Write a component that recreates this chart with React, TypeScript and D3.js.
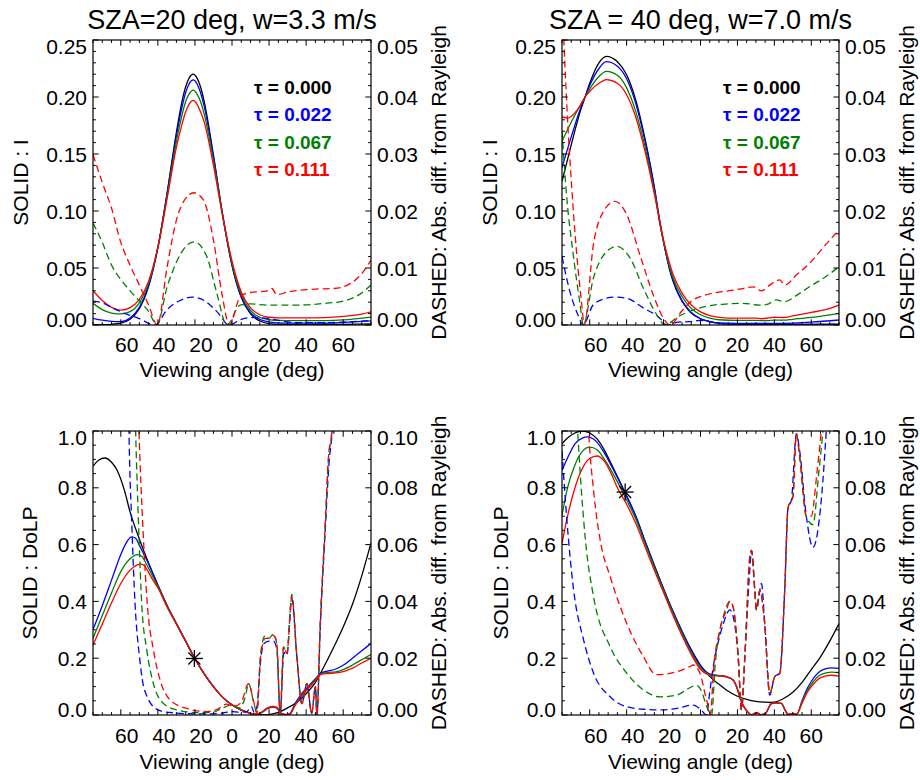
import * as d3 from 'd3'

type Pt = [number, number]

// ---- axes / labels ----
const xDomain: [number, number] = [-75, 75]
const xTicks = [-60, -40, -20, 0, 20, 40, 60]
const xMinorStep = 5
const xTitle = 'Viewing angle (deg)'

const titles = ['SZA=20 deg, w=3.3 m/s', 'SZA = 40 deg, w=7.0 m/s']
const legendLabels = ['τ = 0.000', 'τ = 0.022', 'τ = 0.067', 'τ = 0.111']
const seriesColors = ['#000000', '#0000ff', '#008000', '#ff0000']

const intensityTicks = [0, 0.05, 0.1, 0.15, 0.2, 0.25]
const intensityDiffTicks = [0, 0.01, 0.02, 0.03, 0.04, 0.05]
const dolpTicks = [0, 0.2, 0.4, 0.6, 0.8, 1.0]
const dolpDiffTicks = [0, 0.02, 0.04, 0.06, 0.08, 0.1]
const intensityLabel = 'SOLID : I'
const dolpLabel = 'SOLID : DoLP'
const diffLabel = 'DASHED: Abs. diff. from Rayleigh'

// ---- top left: I, SZA 20 ----
const tlBlack: Pt[] = [[-75,0.0003],[-70,0.0003],[-65,0.0006],[-60,0.0016],[-55,0.0051],[-50,0.0143],[-45,0.034],[-40,0.068],[-35,0.116],[-30,0.169],[-27,0.196],[-25,0.209],[-23,0.217],[-21,0.22],[-19,0.217],[-17,0.209],[-15,0.196],[-10,0.149],[-5,0.096],[0,0.052],[5,0.024],[10,0.0097],[15,0.0035],[20,0.0012],[25,0.0006],[35,0.0005],[50,0.0005],[60,0.0006],[75,0.001]]
const tlBlue: Pt[] = [[-75,0.0059],[-70,0.0042],[-65,0.0032],[-60,0.003],[-55,0.0062],[-50,0.0155],[-45,0.0345],[-40,0.068],[-35,0.115],[-30,0.166],[-27,0.191],[-25,0.204],[-23,0.212],[-21,0.215],[-19,0.212],[-17,0.204],[-15,0.192],[-10,0.147],[-5,0.096],[0,0.053],[5,0.025],[10,0.0108],[15,0.005],[20,0.0028],[25,0.0019],[35,0.0017],[50,0.0017],[60,0.0022],[75,0.0036]]
const tlGreen: Pt[] = [[-75,0.019],[-70,0.0135],[-65,0.0105],[-60,0.0097],[-55,0.0118],[-50,0.0195],[-45,0.0365],[-40,0.068],[-35,0.113],[-30,0.161],[-27,0.184],[-25,0.196],[-23,0.203],[-21,0.206],[-19,0.203],[-17,0.196],[-15,0.185],[-10,0.144],[-5,0.096],[0,0.054],[5,0.027],[10,0.0128],[15,0.0068],[20,0.0048],[25,0.004],[35,0.0038],[50,0.0039],[60,0.0045],[75,0.007]]
const tlRed: Pt[] = [[-75,0.03],[-70,0.0215],[-65,0.0155],[-60,0.013],[-55,0.0152],[-50,0.0225],[-45,0.0385],[-40,0.068],[-35,0.111],[-30,0.156],[-27,0.176],[-25,0.187],[-23,0.194],[-21,0.197],[-19,0.194],[-17,0.187],[-15,0.178],[-10,0.14],[-5,0.095],[0,0.056],[5,0.029],[10,0.015],[15,0.009],[20,0.0068],[25,0.0063],[30,0.0062],[40,0.0063],[50,0.0065],[60,0.0075],[70,0.0095],[75,0.0115]]
const tlDashBlue: Pt[] = [[-75,0.0042],[-70,0.0039],[-65,0.0031],[-59,0.0022],[-50,0.0011],[-41.5,0],[-35,0.0027],[-28,0.0043],[-21.5,0.0049],[-15,0.0043],[-8,0.0023],[-1.6,0],[5,0.001],[10,0.0013],[18,0.0012],[25,0.0008],[35,0.0004],[50,0.0004],[60,0.0005],[75,0.0008]]
const tlDashGreen: Pt[] = [[-75,0.0179],[-70,0.0145],[-65,0.0105],[-60,0.008],[-55,0.006],[-50,0.0042],[-45,0.0024],[-40.5,0],[-35,0.0067],[-30,0.011],[-27.5,0.0126],[-20.5,0.0146],[-13.6,0.012],[-8.2,0.0056],[-2.8,0],[4.4,0.0035],[10,0.0037],[19,0.0035],[30,0.0035],[37,0.0035],[50,0.0038],[60,0.0042],[68,0.0052],[75,0.007]]
const tlDashRed: Pt[] = [[-75,0.0299],[-70,0.025],[-65,0.0205],[-60,0.0145],[-55,0.0105],[-50,0.007],[-45,0.0035],[-40.3,0],[-35,0.0102],[-30,0.0184],[-25,0.0222],[-20.5,0.0232],[-15.5,0.022],[-10,0.0149],[-5.5,0.0056],[-1.4,0],[4.4,0.005],[8,0.0056],[13,0.0058],[19,0.006],[21.5,0.0064],[24.2,0.0053],[30,0.0058],[37,0.0061],[45,0.0063],[55,0.0064],[64,0.0073],[70,0.009],[75,0.0114]]

// ---- top right: I, SZA 40 ----
const trBlack: Pt[] = [[-75,0.126],[-70,0.158],[-65,0.188],[-62.5,0.2],[-60,0.212],[-55,0.23],[-51,0.2357],[-45,0.231],[-40,0.2196],[-35,0.197],[-30,0.163],[-27,0.139],[-25,0.121],[-22,0.089],[-20,0.073],[-16.5,0.047],[-15,0.039],[-11,0.0237],[-10,0.021],[-5,0.0105],[0,0.0055],[5,0.003],[10,0.0015],[15,0.0008],[25,0.0005],[50,0.0005],[75,0.0007]]
const trBlue: Pt[] = [[-75,0.138],[-70,0.165],[-65,0.19],[-62.5,0.2],[-60,0.21],[-55,0.225],[-51,0.231],[-45,0.227],[-40,0.216],[-35,0.194],[-30,0.161],[-25,0.12],[-20,0.073],[-15,0.04],[-10,0.0215],[-5,0.011],[0,0.0055],[5,0.003],[10,0.0018],[20,0.0014],[30,0.0014],[40,0.0014],[50,0.0017],[60,0.0025],[75,0.0044]]
const trGreen: Pt[] = [[-75,0.161],[-70,0.178],[-65,0.193],[-62.5,0.2],[-60,0.207],[-55,0.218],[-51,0.2225],[-45,0.219],[-40,0.208],[-35,0.187],[-30,0.156],[-25,0.117],[-20,0.073],[-15,0.042],[-10,0.025],[-5,0.0145],[0,0.009],[5,0.006],[10,0.0046],[20,0.004],[30,0.004],[36,0.0038],[40,0.0042],[45,0.0042],[50,0.005],[60,0.0066],[75,0.0102]]
const trRed: Pt[] = [[-75,0.1825],[-72,0.1815],[-70,0.183],[-65,0.193],[-62.5,0.2],[-60,0.205],[-55,0.212],[-51,0.2152],[-45,0.212],[-40,0.202],[-35,0.182],[-30,0.152],[-25,0.115],[-20,0.0745],[-15,0.045],[-10,0.028],[-5,0.0175],[0,0.0115],[5,0.0083],[10,0.0068],[15,0.006],[25,0.006],[30,0.006],[33,0.0055],[37,0.0062],[40,0.0068],[45,0.0066],[50,0.008],[60,0.011],[70,0.0145],[75,0.0176]]
const trDashBlue: Pt[] = [[-75,0.012],[-70.5,0.0056],[-66,0.0015],[-63.6,0],[-58,0.0036],[-50.8,0.0047],[-46.3,0.0049],[-40,0.0047],[-31,0.003],[-22,0.0012],[-18.5,0],[-12,0.0005],[-6,0.0006],[0,0.0008],[5,0.0006],[10,0.0003],[20,0.0001],[75,0.0001]]
const trDashGreen: Pt[] = [[-75,0.034],[-72.4,0.0223],[-68.9,0.0123],[-65.2,0.0036],[-63.5,0],[-58,0.0082],[-50.8,0.0129],[-45.4,0.0138],[-38.2,0.0118],[-31,0.0065],[-23.7,0.0018],[-19.2,0],[-12,0.0015],[-4,0.0026],[7,0.0035],[15,0.0037],[23,0.0038],[32,0.0035],[36,0.0036],[41,0.0044],[45.6,0.0041],[52,0.0052],[59,0.0067],[67,0.0083],[75,0.0102]]
const trDashRed: Pt[] = [[-75,0.058],[-74,0.05],[-72.4,0.0386],[-69.7,0.024],[-67,0.0123],[-64.3,0.0036],[-63,0],[-58,0.0141],[-52.6,0.0199],[-46.3,0.0217],[-40,0.0194],[-32.8,0.0123],[-25.6,0.0053],[-20.1,0.0012],[-16.5,0],[-10,0.0025],[-4,0.0044],[2,0.0052],[7,0.0056],[15,0.006],[23,0.0064],[28.5,0.0067],[33,0.006],[37.5,0.007],[42.9,0.0079],[45.6,0.007],[52,0.0088],[59,0.0108],[67,0.0138],[75,0.0167]]

// ---- bottom left: DoLP, SZA 20 ----
const blBlack: Pt[] = [[-75,0.876],[-72,0.897],[-68.5,0.905],[-65,0.89],[-62,0.862],[-58,0.79],[-55,0.715],[-50,0.62],[-45,0.535],[-40,0.458],[-35,0.385],[-30,0.322],[-25,0.26],[-20,0.198],[-15,0.145],[-10,0.1],[-5,0.062],[0,0.035],[5,0.017],[10,0.006],[15,0.001],[18,0],[22,0.004],[26,0.012],[30,0.025],[35,0.045],[40,0.075],[45,0.115],[50,0.175],[55,0.24],[60,0.31],[65,0.39],[70,0.49],[75,0.606]]
const blBlue: Pt[] = [[-75,0.301],[-70,0.385],[-65,0.475],[-60,0.565],[-57,0.607],[-54,0.627],[-52,0.622],[-50,0.598],[-47.8,0.569],[-45,0.532],[-40,0.456],[-35,0.385],[-30,0.322],[-25,0.26],[-20,0.198],[-15,0.145],[-10,0.1],[-5,0.062],[0,0.036],[5,0.018],[10,0.006],[13,0.002],[16,0.008],[19,0.022],[22,0.028],[24,0.025],[26.5,0.005],[29,0.002],[31,0.004],[34,0.04],[37,0.07],[41,0.1],[45,0.128],[48,0.148],[52,0.155],[56,0.162],[60,0.175],[65,0.2],[70,0.226],[75,0.252]]
const blGreen: Pt[] = [[-75,0.27],[-70,0.35],[-65,0.43],[-60,0.505],[-55,0.55],[-51,0.565],[-48.7,0.559],[-46,0.529],[-42.4,0.483],[-40,0.452],[-35,0.384],[-30,0.322],[-25,0.26],[-20,0.198],[-15,0.145],[-10,0.1],[-5,0.062],[0,0.036],[5,0.018],[10,0.006],[13,0.002],[16,0.01],[19,0.024],[22,0.03],[24,0.027],[26.5,0.006],[29,0.001],[31,0.002],[34,0.035],[37,0.065],[41,0.095],[45,0.125],[48,0.145],[52,0.15],[56,0.152],[60,0.16],[65,0.176],[70,0.195],[75,0.213]]
const blRed: Pt[] = [[-75,0.246],[-70,0.32],[-65,0.395],[-60,0.463],[-55,0.51],[-51,0.529],[-49,0.531],[-47,0.524],[-45,0.502],[-42.4,0.472],[-40,0.448],[-35,0.38],[-30,0.32],[-25,0.259],[-20,0.197],[-15,0.145],[-10,0.1],[-5,0.062],[0,0.036],[5,0.018],[10,0.006],[13,0.002],[16,0.01],[19,0.024],[22,0.03],[24,0.027],[26.5,0.006],[29,0.001],[31,0.002],[34,0.033],[37,0.062],[41,0.092],[45,0.122],[48,0.143],[52,0.146],[56,0.148],[60,0.153],[65,0.165],[70,0.183],[75,0.2]]
const blDashBlue: Pt[] = [[-75,0.57],[-65,0.41],[-60,0.3],[-57,0.17],[-55.6,0.1],[-54,0.066],[-52.3,0.039],[-50,0.021],[-48,0.011],[-46,0.0068],[-42.4,0.0029],[-37,0.0012],[-30,0.0007],[-20,0.0004],[-10,0.0004],[-4,0.0008],[0,0.0012],[4,0.001],[8,0.0012],[10.5,0.003],[12,0.0008],[13.5,0.003],[15,0.016],[17,0.025],[20,0.026],[22.4,0.026],[24.2,0.023],[26,0],[28,0.022],[29.6,0.021],[32.3,0.041],[35,0.0205],[37.7,0.004],[40.4,0.011],[43,0.0006],[45,0.01],[45.8,0],[47.6,0.03],[50.3,0.065],[52.5,0.09],[54,0.1],[56,0.16],[60,0.3],[75,0.4]]
const blDashGreen: Pt[] = [[-75,0.6],[-62,0.4],[-55,0.2],[-52,0.1],[-50.3,0.065],[-48.7,0.039],[-46,0.023],[-42.4,0.011],[-37,0.0041],[-29.8,0.0018],[-17.2,0.0008],[-10,0.001],[-5,0.0025],[0,0.0035],[4,0.0025],[7,0.006],[9,0.011],[11.5,0.005],[13.4,0.001],[15.5,0.022],[18,0.028],[20,0.027],[22.4,0.0285],[24.2,0.025],[26,0],[27.8,0.024],[29.6,0.0217],[32.3,0.0425],[35,0.0205],[37.7,0.004],[40.4,0.011],[43,0.0006],[45,0.01],[45.8,0],[47.6,0.032],[50.3,0.067],[52.1,0.091],[53.9,0.1],[56,0.17],[60,0.32],[75,0.45]]
const blDashRed: Pt[] = [[-75,0.63],[-62,0.42],[-54,0.2],[-50.2,0.1],[-48,0.065],[-45.7,0.039],[-42.4,0.0229],[-38.8,0.0123],[-33.4,0.0053],[-24.4,0.0023],[-13.6,0.0012],[-8,0.002],[-3,0.0038],[1,0.003],[5,0.0045],[8.9,0.011],[11.6,0.005],[13.4,0.0006],[15.5,0.021],[18,0.027],[20,0.027],[22.4,0.028],[24.2,0.025],[26,0],[27.8,0.024],[29.6,0.0217],[32.3,0.0416],[35,0.0205],[37.7,0.004],[40.4,0.011],[43,0.0006],[45,0.01],[45.8,0],[47.6,0.032],[50.3,0.067],[52.1,0.091],[53.9,0.1],[56,0.17],[60,0.34],[75,0.47]]
const blStar: Pt = [-20.3, 0.199]

// ---- bottom right: DoLP, SZA 40 ----
const brBlack: Pt[] = [[-75,0.955],[-72,0.975],[-68,0.993],[-64,1.0],[-60,0.993],[-56,0.972],[-52,0.932],[-48,0.88],[-45,0.84],[-40,0.772],[-35,0.7],[-30,0.612],[-25,0.527],[-20,0.445],[-15,0.367],[-10,0.295],[-5,0.23],[0,0.175],[5,0.136],[10,0.108],[14,0.088],[20,0.066],[25,0.055],[30,0.048],[35,0.045],[37.5,0.0445],[40,0.045],[45,0.058],[50,0.08],[55,0.115],[60,0.16],[65,0.205],[70,0.26],[75,0.322]]
const brBlue: Pt[] = [[-75,0.862],[-72,0.905],[-68,0.955],[-64,0.975],[-61.5,0.979],[-58,0.972],[-56,0.96],[-52,0.922],[-48,0.874],[-45,0.836],[-40,0.769],[-35,0.698],[-30,0.61],[-25,0.525],[-20,0.443],[-15,0.365],[-10,0.293],[-5,0.227],[0,0.173],[4,0.148],[7,0.141],[11,0.138],[14,0.135],[17.7,0.123],[19.5,0.1],[21.3,0.064],[23,0.035],[25,0.015],[27.6,0.001],[30.3,0.008],[33,0.001],[35,0.004],[38.4,0.04],[41,0.043],[43.8,0.041],[46,0.015],[47.4,0.002],[50,0.006],[52,0.002],[55,0.05],[57.4,0.088],[60,0.118],[64.6,0.153],[68,0.163],[71,0.166],[75,0.164]]
const brGreen: Pt[] = [[-75,0.703],[-72,0.8],[-68,0.88],[-64,0.928],[-60,0.943],[-56,0.934],[-52,0.9],[-48,0.857],[-45,0.821],[-40,0.757],[-35,0.689],[-30,0.603],[-25,0.52],[-20,0.438],[-15,0.36],[-10,0.287],[-5,0.22],[0,0.166],[4,0.145],[7,0.141],[11,0.138],[14,0.135],[17.7,0.123],[19.5,0.1],[21.3,0.064],[23,0.035],[25,0.015],[27.6,0.001],[30.3,0.008],[33,0.001],[35,0.004],[38.4,0.04],[41,0.043],[43.8,0.041],[46,0.015],[47.4,0.002],[50,0.006],[52,0.002],[55,0.045],[57.4,0.08],[60,0.108],[64.6,0.14],[68,0.148],[71,0.151],[75,0.149]]
const brRed: Pt[] = [[-75,0.604],[-72,0.7],[-68,0.8],[-64,0.868],[-60,0.903],[-56,0.912],[-52,0.893],[-48,0.845],[-45,0.8],[-40,0.742],[-35,0.674],[-30,0.592],[-25,0.51],[-20,0.431],[-15,0.352],[-10,0.279],[-5,0.213],[0,0.161],[4,0.142],[7,0.139],[11,0.137],[14,0.134],[17.7,0.122],[19.5,0.1],[21.3,0.064],[23,0.035],[25,0.015],[27.6,0.001],[30.3,0.008],[33,0.001],[35,0.004],[38.4,0.04],[41,0.043],[43.8,0.041],[46,0.015],[47.4,0.002],[50,0.006],[52,0.002],[55,0.042],[57.4,0.075],[60,0.1],[64.6,0.13],[68,0.138],[71,0.14],[75,0.137]]
const brDashBlue: Pt[] = [[-75,0.093],[-72.5,0.0698],[-68.7,0.044],[-63.3,0.0264],[-57.9,0.0147],[-48.9,0.0064],[-39.9,0.0029],[-30,0.002],[-21.9,0.0018],[-12.9,0.0023],[-3.9,0.0035],[0,0.002],[3.3,0],[5,0.008],[6.9,0.017],[10.5,0.028],[12.3,0.032],[15.9,0.037],[17.7,0.0346],[20.4,0.0205],[22.2,0.0018],[24,0.0205],[26.7,0.051],[27.6,0.058],[29.4,0.044],[30.3,0.037],[33,0.0463],[34.8,0.032],[37.5,0.007],[40.2,0.0135],[42.9,0.0147],[45.6,0.044],[47.4,0.073],[49.2,0.0756],[51.9,0.099],[53.7,0.093],[57.3,0.07],[60.9,0.059],[64.5,0.0698],[68.1,0.1],[72,0.15],[75,0.2]]
const brDashGreen: Pt[] = [[-75,0.25],[-70,0.15],[-66.5,0.1],[-62.3,0.0615],[-57.9,0.0416],[-48.9,0.024],[-39.9,0.0147],[-30.9,0.0088],[-21.9,0.0064],[-12.9,0.007],[-6,0.0095],[-2,0.0105],[-0.3,0.0094],[4.2,0.0018],[6,0],[8,0.018],[10.5,0.03],[12.3,0.0346],[15.9,0.04],[17.7,0.038],[20.4,0.0205],[22.2,0.0018],[24,0.0205],[26.7,0.0557],[27.6,0.058],[29.4,0.044],[30.3,0.037],[32.1,0.044],[34.8,0.032],[37.5,0.0076],[40.2,0.0135],[42.9,0.0147],[45.6,0.044],[47.4,0.073],[50.1,0.077],[51.9,0.099],[53.7,0.091],[57.3,0.07],[60.9,0.067],[64,0.085],[66.3,0.1],[70,0.13],[75,0.17]]
const brDashRed: Pt[] = [[-75,0.35],[-68,0.2],[-62,0.12],[-60.6,0.1],[-57.9,0.079],[-54.3,0.0615],[-48.9,0.0487],[-39.9,0.0322],[-30.9,0.0205],[-24,0.0142],[-18,0.0145],[-12.9,0.0152],[-6,0.017],[-3.9,0.0176],[-0.3,0.0147],[3.3,0.0053],[5.5,0.0006],[6.9,0.0147],[10.5,0.03],[14.1,0.037],[15.9,0.04],[17.7,0.038],[20.4,0.0205],[22.2,0.0018],[24,0.0205],[26.7,0.0557],[27.6,0.058],[29.4,0.044],[30.3,0.037],[32.1,0.044],[34.8,0.032],[37.5,0.0076],[40.2,0.0135],[42.9,0.0147],[45.6,0.044],[47.4,0.073],[50.1,0.077],[51.9,0.099],[53.7,0.091],[57.3,0.07],[60,0.07],[63,0.085],[65.4,0.1],[70,0.14],[75,0.18]]
const brStar: Pt = [-40.8, 0.785]

// ---- layout ----
const FONT = '"Liberation Sans", Arial, Helvetica, sans-serif'
const COLS = [{ x: 93, w: 278 }, { x: 562, w: 277 }]
const ROWS = [
  { y: 40, h: 285, tickBase: 27, titleBase: 52 },
  { y: 431, h: 284, tickBase: 28, titleBase: 54 },
]
const MAJOR = 5.7
const MINOR = 2.9
const DASH = '7,4'

function range(lo: number, hi: number, step: number) {
  const n = Math.round((hi - lo) / step)
  return d3.range(n + 1).map((i) => lo + i * step)
}

function Panel({ id, col, row, title, leftTicks, rightTicks, leftMinor, rightMinor, leftFmt, leftLabel, leftLabelGap, solids, dashes, legend, star }: any) {
  const x0 = col.x, x1 = col.x + col.w, y0 = row.y, y1 = row.y + row.h
  const x = d3.scaleLinear().domain(xDomain).range([x0, x1])
  const yL = d3.scaleLinear().domain([0, leftTicks[leftTicks.length - 1]]).range([y1, y0])
  const yR = d3.scaleLinear().domain([0, rightTicks[rightTicks.length - 1]]).range([y1, y0])
  const lineL = d3.line<Pt>().x((d) => x(d[0])).y((d) => yL(d[1])).curve(d3.curveMonotoneX)
  const lineR = d3.line<Pt>().x((d) => x(d[0])).y((d) => yR(d[1])).curve(d3.curveMonotoneX)
  const fmtL = d3.format(leftFmt)
  const fmtR = d3.format('.2f')
  const cx = (x0 + x1) / 2
  const cy = (y0 + y1) / 2
  const xMinors = range(xDomain[0], xDomain[1], xMinorStep)
  const lMinors = range(0, leftTicks[leftTicks.length - 1], leftMinor)
  const rMinors = range(0, rightTicks[rightTicks.length - 1], rightMinor)
  const last = leftTicks.length - 1

  return (
    <g>
      <defs>
        <clipPath id={`clip-${id}`}>
          <rect x={x0} y={y0} width={x1 - x0} height={y1 - y0} />
        </clipPath>
      </defs>
      {title && (
        <text x={cx} y={29} textAnchor="middle" fontSize={27}>{title}</text>
      )}

      <g clipPath={`url(#clip-${id})`} fill="none">
        {solids.map((s: Pt[], i: number) => (
          <path key={`s${i}`} d={lineL(s) || ''} stroke={seriesColors[i]} strokeWidth={1.3} />
        ))}
        {dashes.map((s: Pt[], i: number) => (
          <path key={`d${i}`} d={lineR(s) || ''} stroke={seriesColors[i + 1]} strokeWidth={1.3} strokeDasharray={DASH} />
        ))}
      </g>

      {star && (
        <g stroke="#000" strokeWidth={1.3}>
          {[0, 45, 90, 135].map((a) => {
            const r = 8.5
            const px = x(star[0]), py = yL(star[1])
            const dx = r * Math.cos((a * Math.PI) / 180), dy = r * Math.sin((a * Math.PI) / 180)
            return <line key={a} x1={px - dx} y1={py - dy} x2={px + dx} y2={py + dy} />
          })}
        </g>
      )}

      {/* frame and ticks */}
      <rect x={x0} y={y0} width={x1 - x0} height={y1 - y0} fill="none" stroke="#000" strokeWidth={1.2} />
      <g stroke="#000" strokeWidth={1}>
        {xMinors.map((v) => {
          const len = xTicks.includes(v) ? MAJOR : MINOR
          return (
            <g key={`xt${v}`}>
              <line x1={x(v)} x2={x(v)} y1={y1} y2={y1 - len} />
              <line x1={x(v)} x2={x(v)} y1={y0} y2={y0 + len} />
            </g>
          )
        })}
        {lMinors.map((v) => (
          <line key={`lt${v}`} x1={x0} x2={x0 + (leftTicks.some((t: number) => Math.abs(t - v) < 1e-9) ? MAJOR : MINOR)} y1={yL(v)} y2={yL(v)} />
        ))}
        {rMinors.map((v) => (
          <line key={`rt${v}`} x1={x1} x2={x1 - (rightTicks.some((t: number) => Math.abs(t - v) < 1e-9) ? MAJOR : MINOR)} y1={yR(v)} y2={yR(v)} />
        ))}
      </g>

      {/* tick labels */}
      <g fontSize={21}>
        {xTicks.map((v) => (
          <text key={`xl${v}`} x={x(v) + (v < 0 ? 6 : 0)} y={y1 + row.tickBase} textAnchor="middle">{Math.abs(v)}</text>
        ))}
        {leftTicks.map((v: number, i: number) => (
          <text key={`ll${v}`} x={x0 - 6} y={yL(v) + 7.5 + (i === 0 ? -6 : i === last ? 6 : 0)} textAnchor="end">{fmtL(v)}</text>
        ))}
        {rightTicks.map((v: number, i: number) => (
          <text key={`rl${v}`} x={x1 + 6} y={yR(v) + 7.5 + (i === 0 ? -6 : i === last ? 6 : 0)} textAnchor="start">{fmtR(v)}</text>
        ))}
        <text x={cx} y={y1 + row.titleBase} textAnchor="middle">{xTitle}</text>
        <text transform={`translate(${x0 - leftLabelGap},${cy}) rotate(-90)`} textAnchor="middle">{leftLabel}</text>
        <text transform={`translate(${x1 + 75},${cy}) rotate(-90)`} textAnchor="middle">{diffLabel}</text>
      </g>

      {legend && (
        <g fontSize={19} fontWeight="bold">
          {legendLabels.map((t, i) => (
            <text key={t} x={x0 + 161} y={y0 + 54 + i * 27.3} fill={seriesColors[i]}>{t}</text>
          ))}
        </g>
      )}
    </g>
  )
}

export default function App() {
  return (
    <svg width={920} height={780} style={{ position: 'absolute', left: 0, top: 0, background: '#fff' }} fontFamily={FONT}>
      <rect width={920} height={780} fill="#fff" />
      <Panel id="tl" col={COLS[0]} row={ROWS[0]} title={titles[0]}
        leftTicks={intensityTicks} rightTicks={intensityDiffTicks} leftMinor={0.01} rightMinor={0.002}
        leftFmt=".2f" leftLabel={intensityLabel} leftLabelGap={65}
        solids={[tlBlack, tlBlue, tlGreen, tlRed]} dashes={[tlDashBlue, tlDashGreen, tlDashRed]} legend />
      <Panel id="tr" col={COLS[1]} row={ROWS[0]} title={titles[1]}
        leftTicks={intensityTicks} rightTicks={intensityDiffTicks} leftMinor={0.01} rightMinor={0.002}
        leftFmt=".2f" leftLabel={intensityLabel} leftLabelGap={65}
        solids={[trBlack, trBlue, trGreen, trRed]} dashes={[trDashBlue, trDashGreen, trDashRed]} legend />
      <Panel id="bl" col={COLS[0]} row={ROWS[1]}
        leftTicks={dolpTicks} rightTicks={dolpDiffTicks} leftMinor={0.05} rightMinor={0.005}
        leftFmt=".1f" leftLabel={dolpLabel} leftLabelGap={56}
        solids={[blBlack, blBlue, blGreen, blRed]} dashes={[blDashBlue, blDashGreen, blDashRed]} star={blStar} />
      <Panel id="br" col={COLS[1]} row={ROWS[1]}
        leftTicks={dolpTicks} rightTicks={dolpDiffTicks} leftMinor={0.05} rightMinor={0.005}
        leftFmt=".1f" leftLabel={dolpLabel} leftLabelGap={54}
        solids={[brBlack, brBlue, brGreen, brRed]} dashes={[brDashBlue, brDashGreen, brDashRed]} star={brStar} />
    </svg>
  )
}
